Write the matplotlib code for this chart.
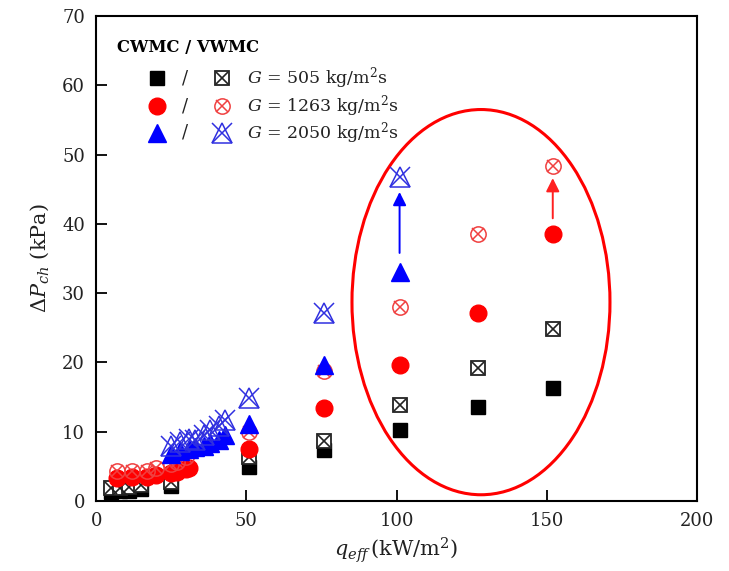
import numpy as np
import matplotlib
matplotlib.use("Agg")
import matplotlib.pyplot as plt
from matplotlib.patches import Ellipse

plt.rcParams['font.family'] = 'DejaVu Serif'
plt.rcParams['mathtext.fontset'] = 'dejavuserif'

# G = 505 kg/m2s
q_505_c = [5, 8, 11, 15, 25, 51, 76, 101, 127, 152]
dp_505_c = [1.3, 1.4, 1.5, 1.8, 2.2, 4.9, 7.4, 10.2, 13.6, 16.3]
q_505_v = [5, 8, 11, 15, 25, 51, 76, 101, 127, 152]
dp_505_v = [1.9, 1.9, 2.0, 2.3, 2.8, 6.3, 8.7, 13.9, 19.2, 24.8]

# G = 1263 kg/m2s
q_1263_c = [7, 12, 17, 20, 25, 27, 30, 31, 51, 76, 101, 127, 152]
dp_1263_c = [3.3, 3.4, 3.5, 3.7, 4.0, 4.2, 4.6, 4.8, 7.5, 13.4, 19.6, 27.1, 38.6]
q_1263_v = [7, 12, 17, 20, 25, 27, 30, 51, 76, 101, 127, 152]
dp_1263_v = [4.3, 4.3, 4.4, 4.7, 5.3, 5.7, 6.4, 10.0, 18.8, 28.0, 38.6, 48.3]

# G = 2050 kg/m2s
q_2050_c = [25, 28, 31, 33, 36, 38, 41, 43, 51, 76, 101]
dp_2050_c = [6.8, 7.2, 7.5, 7.8, 8.0, 8.3, 8.8, 9.5, 11.1, 19.6, 33.0]
q_2050_v = [25, 28, 31, 33, 36, 38, 41, 43, 51, 76, 101]
dp_2050_v = [8.0, 8.5, 9.0, 8.8, 9.5, 10.3, 10.8, 11.7, 14.9, 27.1, 46.8]

# arrows showing the CWMC -> VWMC increase
arrow_q = [101, 152]
arrow_from = [35.8, 40.8]
arrow_to = [44.6, 46.6]
arrow_colors = ['#0000ff', '#ff2020']

groups = ['505', '1263', '2050']

black = '#000000'
red = '#ff0000'
red_light = '#f04040'
blue = '#0000ff'
blue_light = '#3030e0'
text_col = '#222222'


def vw_marker(ax, x, y, kind, **kw):
    # hollow marker with an x through it
    if kind == 's':
        ax.plot(x, y, ls='none', marker='s', ms=10, mfc='white', mec='#222222', mew=1.3, **kw)
        ax.plot(x, y, ls='none', marker='x', ms=8, mec='#222222', mew=1.2, **kw)
    elif kind == 'o':
        ax.plot(x, y, ls='none', marker='o', ms=11, mfc='none', mec=red_light, mew=1.1, **kw)
        ax.plot(x, y, ls='none', marker='x', ms=8, mec=red_light, mew=1.1, **kw)
    else:
        ax.plot(x, y, ls='none', marker='^', ms=14, mfc='none', mec=blue_light, mew=1.1, **kw)
        ax.plot(x, y, ls='none', marker='x', ms=15, mec=blue_light, mew=1.1, **kw)


fig = plt.figure(figsize=(7.29, 5.71), dpi=100)
ax = fig.add_axes([0.132, 0.1226, 0.824, 0.8494])

ax.plot(q_505_c, dp_505_c, ls='none', marker='s', ms=10, color=black)
vw_marker(ax, q_505_v, dp_505_v, 's')
ax.plot(q_1263_c, dp_1263_c, ls='none', marker='o', ms=12, color=red)
vw_marker(ax, q_1263_v, dp_1263_v, 'o')
ax.plot(q_2050_c, dp_2050_c, ls='none', marker='^', ms=13, color=blue)
vw_marker(ax, q_2050_v, dp_2050_v, '^')

for q, y0, y1, c in zip(arrow_q, arrow_from, arrow_to, arrow_colors):
    ax.annotate('', xy=(q, y1), xytext=(q, y0),
                arrowprops=dict(arrowstyle='-|>,head_length=0.8,head_width=0.4',
                                color=c, lw=1.4, shrinkA=0, shrinkB=0))

ax.add_patch(Ellipse((128.1, 28.7), 85.9, 55.6, fill=False, ec='#ff0000', lw=2.2))

ax.set_xlim(0, 200)
ax.set_ylim(0, 70)
ax.set_xticks([0, 50, 100, 150, 200])
ax.set_yticks(np.arange(0, 71, 10))
ax.tick_params(direction='in', length=8, width=1.3, labelsize=13, pad=8,
               labelcolor=text_col)
for s in ax.spines.values():
    s.set_linewidth(1.5)

ax.set_xlabel(r'$q_{eff}\,$(kW/m$^2$)', fontsize=15, labelpad=4, color=text_col)
ax.set_ylabel(r'$\Delta P_{ch}$ (kPa)', fontsize=15, labelpad=8, color=text_col)

# legend drawn by hand: filled / hollow marker pairs
tr = ax.transAxes
ax.text(0.035, 0.936, 'CWMC / VWMC', transform=tr, fontsize=11.8, fontweight='bold',
        va='center', ha='left')
rows_y = [0.872, 0.814, 0.759]
filled = [('s', black, 10), ('o', red, 12), ('^', blue, 13)]
hollow = ['s', 'o', '^']
for yy, (mk, col, ms), hk, g in zip(rows_y, filled, hollow, groups):
    ax.plot([0.101], [yy], transform=tr, ls='none', marker=mk, ms=ms, color=col, clip_on=False)
    ax.text(0.148, yy, '/', transform=tr, fontsize=13, va='center', ha='center', color=text_col)
    vw_marker(ax, [0.21], [yy], hk, transform=tr, clip_on=False)
    ax.text(0.251, yy, r'$G$ = ' + g + r' kg/m$^2$s', transform=tr, fontsize=12.5,
            va='center', ha='left', color=text_col)

fig.savefig('out.png', dpi=100)
